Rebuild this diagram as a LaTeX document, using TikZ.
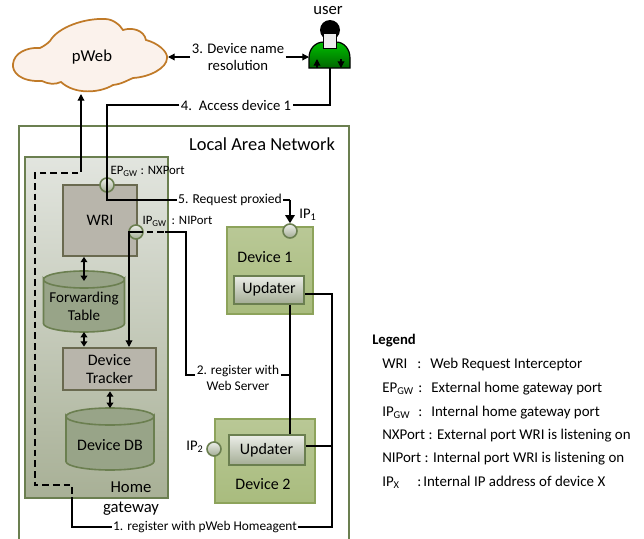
\documentclass[tikz,border=0pt]{standalone}
\usepackage{fontspec}
\setmainfont{Carlito}
\usetikzlibrary{positioning,arrows.meta}
\definecolor{lanline}{HTML}{6B7F50}
\definecolor{cylfill}{HTML}{98A488}
\definecolor{boxfill}{HTML}{B8B5AB}
\definecolor{boxline}{HTML}{6A6A50}
\definecolor{devline}{HTML}{8DA35B}
\definecolor{devtop}{HTML}{B9C896}
\definecolor{devbot}{HTML}{A9BC7E}
\definecolor{updtop}{HTML}{EDEFEA}
\definecolor{updbot}{HTML}{A3AC94}
\definecolor{hometop}{HTML}{E2E5DF}
\definecolor{homebot}{HTML}{A8B096}
\definecolor{cloudline}{HTML}{C07A28}
\definecolor{cloudfill}{HTML}{FBF2EC}
\tikzset{
    lanbox/.style={draw=lanline,line width=1.5pt},
    homebox/.style={draw=lanline,line width=1.5pt,top color=hometop,bottom color=homebot},
    greybox/.style={draw=boxline,line width=1.5pt,fill=boxfill,align=center,font=\fontsize{12}{14}\selectfont},
    devbox/.style={draw=devline,line width=1.5pt,top color=devtop,bottom color=devbot},
    updbox/.style={draw=lanline,line width=1.5pt,top color=updtop,bottom color=updbot,font=\fontsize{12}{13}\selectfont},
    portc/.style={circle,draw=lanline,line width=1.2pt,top color=updtop,bottom color=updbot,minimum size=10.5pt,inner sep=0pt},
    dbcyl/.style={draw=lanline,line width=1.2pt,fill=cylfill},
    lbl/.style={font=\fontsize{11}{12.8}\selectfont,align=center,inner sep=1pt},
    smalllbl/.style={font=\fontsize{9.6}{11.5}\selectfont,align=center,inner sep=1pt},
    legendtxt/.style={font=\fontsize{11.2}{13}\selectfont,anchor=base west,inner sep=0pt},
    link/.style={line width=0.9pt,black},
    linkd/.style={line width=1.2pt,black,dash pattern=on 5pt off 3pt},
    tipb/.style={-{Triangle[length=5pt,width=5pt]}},
    tipbig/.style={-{Triangle[length=6pt,width=7pt]}},
    tipbb/.style={{Triangle[length=4pt,width=5pt]}-{Triangle[length=4pt,width=5pt]}},
}
\newcommand{\sub}[1]{\textsubscript{#1}}
% half width, height, ellipse height; origin at the middle of the top
\newcommand{\drum}[3]{
    (-#1,#3) -- (-#1,#2-#3) arc[start angle=180,end angle=0,x radius=#1,y radius=#3] -- (#1,#3) arc[start angle=0,end angle=180,x radius=#1,y radius=#3] -- cycle
    (0,#3) ellipse[x radius=#1,y radius=#3]
}
\begin{document}
\begin{tikzpicture}[x=0.75pt,y=-0.75pt]
    \useasboundingbox (0,0) rectangle (644,539);

    %Cloud
    \draw[draw=cloudline,line width=1.3pt,fill=cloudfill]
        (42,81) .. controls (20,82) and (12,72) .. (13,64)
        .. controls (14,53) and (27,47) .. (40,48)
        .. controls (44,46) and (47,44) .. (50,41)
        .. controls (58,27) and (85,18) .. (105,19)
        .. controls (113,19) and (120,25) .. (123,30)
        .. controls (132,27) and (144,30) .. (146,40)
        .. controls (158,43) and (168,52) .. (167,58)
        .. controls (167,68) and (150,77) .. (133,78)
        .. controls (128,80) and (122,84) .. (113,85)
        .. controls (100,93) and (75,95) .. (61,82)
        .. controls (55,85) and (48,84) .. (42,81) -- cycle;
    \node[lbl,font=\fontsize{12.5}{14}\selectfont] (pweb) at (92,57) {pWeb};
    \coordinate (cloudr) at (168,57);
    \coordinate (cloudb) at (81,94);

    %User
    \draw[line width=0.9pt,top color=green!75!black,bottom color=green!40!black]
        (309,68) -- (309,58) .. controls (309,49) and (315,42) .. (324,42) -- (336,42)
        .. controls (344,42) and (350,49) .. (350,58) -- (350,68) -- cycle;
    \fill (330,30) circle (10);
    \draw[fill=black!8,line width=0.6pt] (323,33) rectangle (336,48);
    \node[lbl,font=\fontsize{12.5}{14}\selectfont] (usertxt) at (328,11) {user};
    \coordinate (user) at (309,57);
    \coordinate (userb) at (330,68);
    \draw[tipb,link] (317,68) -- (317,59);
    \draw[tipb,link] (341,59) -- (341,68);

    %LAN
    \draw[lanbox] (19,126) rectangle (349,545);
    \node[lbl,font=\fontsize{13.8}{16}\selectfont] (lan) at (262,144) {Local Area Network};

    %Gateway
    \draw[homebox] (25,157) rectangle (168,498);
    \node[lbl,font=\fontsize{12.5}{14}\selectfont] (home) at (131,487) {Home};
    \node[lbl,font=\fontsize{12.5}{14}\selectfont] (gateway) at (131,509) {gateway};

    \node[greybox,minimum width=56pt,minimum height=53pt] (wri) at (100,220.5) {WRI};
    \node[greybox,minimum width=70pt,minimum height=32pt,inner sep=0pt] (tracker) at (109.5,369) {Device\\Tracker};
    \draw[dbcyl,shift={(84,271)}] \drum{40.5}{61}{8.5};
    \node[lbl,font=\fontsize{11.3}{13.5}\selectfont] (fwdt) at (84,306) {Forwarding\\Table};
    \coordinate (fwdbot) at (84,332);
    \draw[dbcyl,shift={(110,408)}] \drum{44}{62}{8.5};
    \node[lbl,font=\fontsize{12}{14}\selectfont] (devdbt) at (110,445) {Device DB};
    \coordinate (dbtop) at (110,408);

    \node[portc] (ep) at (107,185) {};
    \node[portc] (ipgw) at (136,232) {};
    \node[smalllbl,anchor=west] (eplbl) at (109,171) {EP\sub{GW} : NXPort};
    \node[smalllbl,anchor=west] (ipgwlbl) at (141,221) {IP\sub{GW} \,: NIPort};

    %Devices
    \node[devbox,minimum width=65pt,minimum height=65pt] (dev1) at (270,270.5) {};
    \node[devbox,minimum width=75pt,minimum height=63pt] (dev2) at (265,460.5) {};
    \node[lbl,font=\fontsize{12}{14}\selectfont] (dev1t) at (265,257) {Device 1};
    \node[lbl,font=\fontsize{12}{14}\selectfont] (dev2t) at (263,484) {Device 2};
    \node[updbox,minimum width=53pt,minimum height=21pt,inner sep=0pt] (upd1) at (269,289.5) {Updater};
    \node[updbox,minimum width=57pt,minimum height=23pt,inner sep=0pt] (upd2) at (266.5,450) {Updater};
    \node[portc] (ip1) at (290,231) {};
    \node[portc] (ip2) at (214,449) {};
    \node[lbl] (ip1t) at (308,215) {IP\sub{1}};
    \node[lbl] (ip2t) at (195,447) {IP\sub{2}};

    %Labels
    \node[lbl] (l3) at (238,57) {3. Device name\\resolution};
    \node[lbl] (l4) at (236,105) {4.\, Access device 1};
    \node[lbl,font=\fontsize{10.2}{12}\selectfont] (l5) at (230,200) {5. Request proxied};
    \node[smalllbl,font=\fontsize{10}{12}\selectfont] (l2) at (238,378) {2. register with\\Web Server};
    \node[smalllbl,font=\fontsize{10}{12}\selectfont] (l1) at (205,527) {1. register with pWeb Homeagent};

    %Links
    \draw[tipb,link] (l3) -- (cloudr);
    \draw[tipb,link] (l3) -- (user);
    \draw[link] (userb) |- (l4);
    \draw[link] (l4) -| (ep.center);
    \draw[link] (ep.center) -- (107,200) -- (l5);
    \draw[link] (l5.east) -- (290,200);
    \draw[tipbig,line width=1.3pt] (290,200) -- (ip1);
    \draw[tipb,link] (81,165) -- (cloudb);
    \draw[linkd] (81,165) -- (81,173) -- (35,173) -- (35,485) -- (72,485) -- (72,497);
    \draw[link] (72,497) |- (l1);
    \draw[link] (l1) -| (332,294) -- (upd1.east |- 332,294);
    \draw[link] (332,446) -- (upd2.east |- 332,446);
    \draw[linkd] (ipgw.center) -- (165,232);
    \draw[link] (165,232) -- (186,232) -- (186,375) -- (l2.west |- 186,375);
    \draw[link] (l2.east |- 290,375) -- (290,375);
    \draw[link] (upd1.south -| 290,300) -- (upd2.north -| 290,300);
    \draw[tipb,link] (ipgw.center) -- (129,232) -- (129,347);
    \draw[tipbb,link] (wri.south -| fwdbot) -- (84,281);
    \draw[tipbb,link] (fwdbot) -- (tracker.north -| fwdbot);
    \draw[tipbb,link] (tracker.south -| dbtop) -- (dbtop);

    %Legend
    \node[legendtxt,font=\fontsize{11}{13}\bfseries] (leg) at (372,344) {Legend};
    \foreach \n/\y/\a/\cx/\b/\bx in {wri/368/WRI/417/Web Request Interceptor/430,
        epg/392/EP\sub{GW}/418/External home gateway port/431,
        ipg/416/IP\sub{GW}/418/Internal home gateway port/431,
        ipx/486/IP\sub{X}/417/Internal IP address of device X/423}{
        \node[legendtxt] (\n a) at (382,\y) {\a};
        \node[legendtxt] (\n c) at (\cx,\y) {:};
        \node[legendtxt] (\n b) at (\bx,\y) {\b};
    }
    \node[legendtxt] (nxp) at (382,439) {NXPort : External port WRI is listening on};
    \node[legendtxt] (nip) at (382,462) {NIPort : Internal port WRI is listening on};
\end{tikzpicture}
\end{document}
